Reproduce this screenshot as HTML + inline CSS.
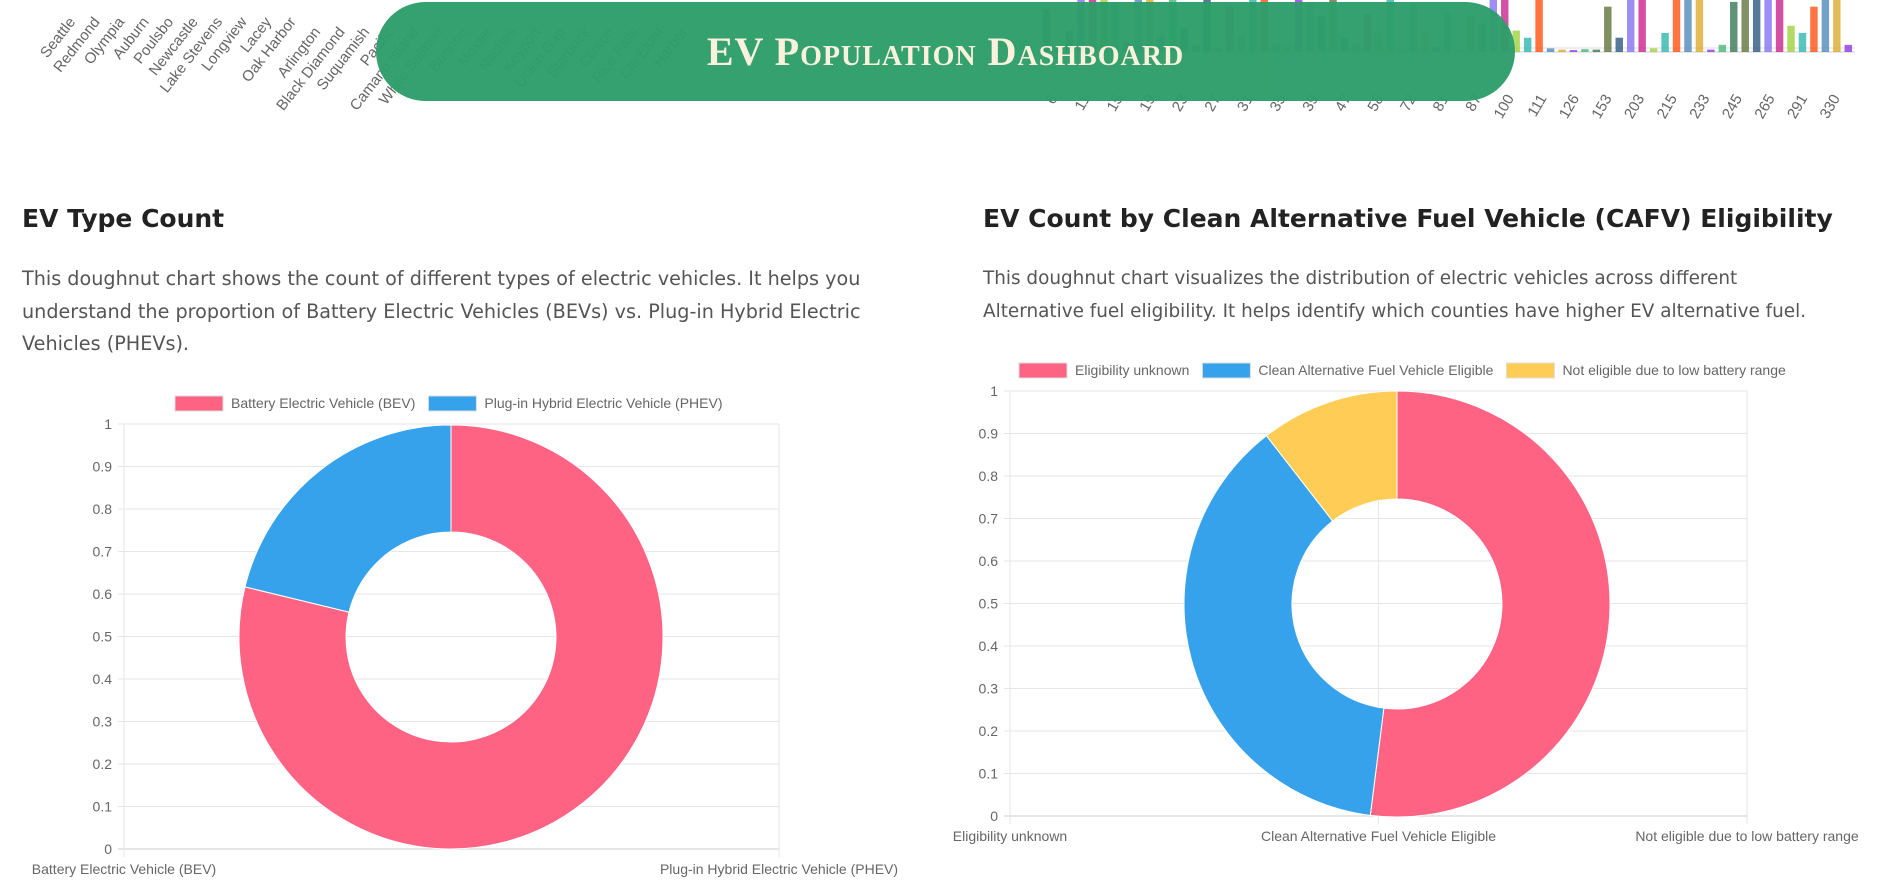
<!DOCTYPE html>
<html><head><meta charset="utf-8">
<style>
html,body{margin:0;padding:0;background:#fff;width:1885px;height:882px;overflow:hidden;font-family:"Liberation Sans",sans-serif;}
#bg{position:absolute;left:0;top:0;}
.pill{position:absolute;left:376px;top:2px;width:1139px;height:99px;border-radius:50px;background:#2e9e6b;opacity:0.97;display:flex;align-items:center;justify-content:center;color:#fbf1dc;font-family:"Liberation Serif",serif;font-weight:bold;font-size:40px;font-variant:small-caps;letter-spacing:1px;}
h2{position:absolute;margin:0;font-family:"DejaVu Sans","Liberation Sans",sans-serif;font-weight:bold;font-size:25px;color:#222;white-space:nowrap;}
p{position:absolute;margin:0;font-family:"DejaVu Sans","Liberation Sans",sans-serif;font-size:19.2px;line-height:32.5px;color:#555;}
svg text{font-family:"Liberation Sans",sans-serif;}
</style></head><body>
<svg id="bg" width="1885" height="882"></svg>
<div class="pill">EV Population Dashboard</div>
<h2 style="left:22px;top:204px">EV Type Count</h2>
<p style="left:22px;top:263px;width:880px">This doughnut chart shows the count of different types of electric vehicles. It helps you understand the proportion of Battery Electric Vehicles (BEVs) vs. Plug-in Hybrid Electric Vehicles (PHEVs).</p>
<h2 style="left:983px;top:204px">EV Count by Clean Alternative Fuel Vehicle (CAFV) Eligibility</h2>
<p style="left:983px;top:263px;width:860px;font-size:18.4px">This doughnut chart visualizes the distribution of electric vehicles across different Alternative fuel eligibility. It helps identify which counties have higher EV alternative fuel.</p>
<svg id="c1" style="position:absolute;left:0;top:380px" width="950" height="502"></svg>
<svg id="c2" style="position:absolute;left:900px;top:350px" width="985" height="532"></svg>
<script>
const NS="http://www.w3.org/2000/svg";
// chart 1 data
const typeLabels=["Battery Electric Vehicle (BEV)","Plug-in Hybrid Electric Vehicle (PHEV)"];
const typeCounts=[78.8,21.2];
const typeColors=["#ff6384","#36a2eb"];
// chart 2 data
const cafvLabels=["Eligibility unknown","Clean Alternative Fuel Vehicle Eligible","Not eligible due to low battery range"];
const cafvCounts=[52,37.5,10.5];
const cafvColors=["#ff6384","#36a2eb","#ffcd56"];
const yTicks=[0,0.1,0.2,0.3,0.4,0.5,0.6,0.7,0.8,0.9,1];
// background fragments
const cityLabels=["Seattle","Redmond","Olympia","Auburn","Poulsbo","Newcastle","Lake Stevens","Longview","Lacey","Oak Harbor","Arlington","Black Diamond","Suquamish","Pacific","Camano Island","White Salmon","Brinnon","Moxee","Naches","Keyport","Union Gap","Starbuck","Clinton","Rice Falls","Cle Elum","Harbor"];
const rangeLabels=["6","11","15","19","23","27","31","35","39","47","58","72","81","87","100","111","126","153","203","215","233","245","265","291","330"];
const rangeBars=[180,20,90,220,230,260,210,40,260,250,70,240,100,30,250,15,190,70,240,230,30,25,230,210,150,240,60,30,160,80,260,10,200,90,20,170,10,150,120,230,255,90,60,250,15,10,8,12,10,190,60,240,250,15,80,250,260,250,10,30,210,240,250,230,250,110,80,190,250,240,30];
const barColors=["#2b6e4a","#556b2f","#1f4e79","#7b68ee","#c71585","#9acd32","#20b2aa","#ff4500","#4682b4","#daa520","#8a2be2","#3cb371"];

function el(p,t,a){const e=document.createElementNS(NS,t);for(const k in a)e.setAttribute(k,a[k]);p.appendChild(e);return e;}

(function bg(){
  const s=document.getElementById('bg');
  cityLabels.forEach((c,i)=>{
    const x=76+i*24.5, y=22+(i>9?10:0);
    const t=el(s,'text',{x:x,y:y,'text-anchor':'end','font-size':'15',fill:'#666',transform:`rotate(-52 ${x} ${y})`});
    
    
    t.textContent=c;
  });
  const base=52, top=-10, x0=1042, x1=1855;
  el(s,'line',{x1:x0,x2:x1,y1:48,y2:48,stroke:'#ddd'});
  el(s,'line',{x1:x0,x2:x1,y1:base,y2:base,stroke:'#ccc'});
  const t2=el(s,'text',{x:1030,y:50,'text-anchor':'end','font-size':'14',fill:'#666'});t2.textContent='200';
  const bw=(x1-x0)/rangeBars.length;
  rangeBars.forEach((v,i)=>{
    const h=v/260*(base-top);
    const r=el(s,'rect',{x:x0+i*bw+1,y:base-h,width:Math.max(bw-4,2),height:h,fill:barColors[i%barColors.length],opacity:0.75});
    
    
  });
  rangeLabels.forEach((c,i)=>{
    const x=1058+i*32.6, y=98;
    const t=el(s,'text',{x:x,y:y,'text-anchor':'end','font-size':'15',fill:'#666',transform:`rotate(-60 ${x} ${y})`});
    
    
    t.textContent=c;
  });
})();

function donutChart(svg,labels,vals,colors,o){
  let lx=o.legendX;
  labels.forEach((l,i)=>{
    const g=el(svg,'g',{});
    
    
    el(g,'rect',{x:lx,y:o.legendY-7,width:48,height:15,fill:colors[i],stroke:'#ddd'});
    const t=el(g,'text',{x:lx+56,y:o.legendY+5,'font-size':'14',fill:'#666'});t.textContent=l;
    lx+=56+t.getComputedTextLength()+13;
  });
  const {L,R,T,B}=o;
  const yScale=v=>B-(B-T)*v;
  yTicks.forEach(v=>{
    el(svg,'line',{x1:L-6,x2:R,y1:yScale(v),y2:yScale(v),stroke:v===0?'#ccc':'#e6e6e6'});
    const t=el(svg,'text',{x:L-12,y:yScale(v)+5,'text-anchor':'end','font-size':'14',fill:'#666'});
    
    
    t.textContent=String(v);
  });
  const xs=labels.map((l,i)=>L+(R-L)*i/(labels.length-1));
  xs.forEach(x=>el(svg,'line',{x1:x,x2:x,y1:T,y2:B+8,stroke:'#e6e6e6'}));
  labels.forEach((l,i)=>{
    const t=el(svg,'text',{x:xs[i],y:B+25,'text-anchor':'middle','font-size':'14',fill:'#666'});
    
    
    t.textContent=l;
  });
  const tot=vals.reduce((a,b)=>a+b,0);
  let a=-Math.PI/2;
  const cx=o.cx,cy=o.cy,ro=o.ro,ri=o.ri;
  vals.forEach((v,i)=>{
    const a2=a+v/tot*Math.PI*2, lg=(a2-a)>Math.PI?1:0;
    const p=`M${cx+ro*Math.cos(a)} ${cy+ro*Math.sin(a)} A${ro} ${ro} 0 ${lg} 1 ${cx+ro*Math.cos(a2)} ${cy+ro*Math.sin(a2)} L${cx+ri*Math.cos(a2)} ${cy+ri*Math.sin(a2)} A${ri} ${ri} 0 ${lg} 0 ${cx+ri*Math.cos(a)} ${cy+ri*Math.sin(a)} Z`;
    const s=el(svg,'path',{d:p,fill:colors[i],stroke:'#fff','stroke-width':1});
    
    
    a=a2;
  });
}
donutChart(document.getElementById('c1'),typeLabels,typeCounts,typeColors,
  {legendX:175,legendY:23,L:124,R:779,T:44,B:469,cx:451,cy:257,ro:212,ri:105});
donutChart(document.getElementById('c2'),cafvLabels,cafvCounts,cafvColors,
  {legendX:119,legendY:20,L:110,R:847,T:41,B:466,cx:497,cy:254,ro:213,ri:105});
</script>
</body></html>
